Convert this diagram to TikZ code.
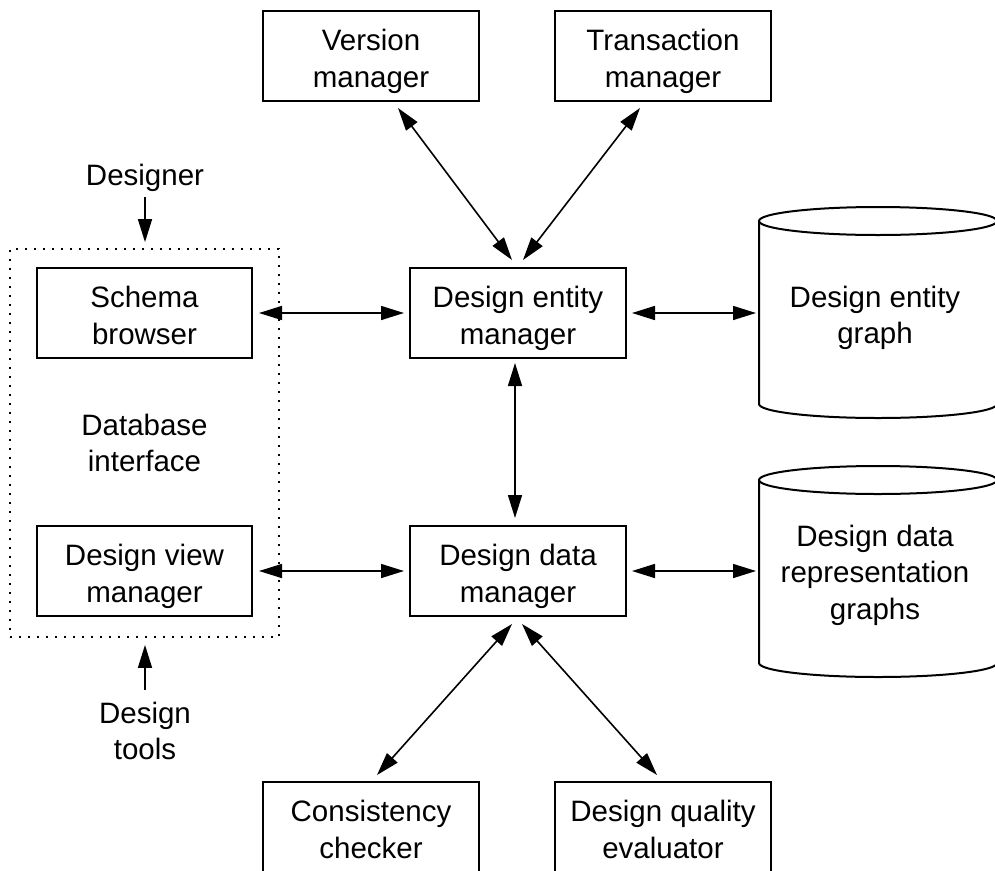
\documentclass[tikz,border=0pt]{standalone}
\usepackage{fontspec}
\setmainfont{Liberation Sans}
\usetikzlibrary{arrows.meta}
\begin{document}
\begin{tikzpicture}[x=1pt,y=-1pt,
  every node/.style={font=\fontsize{29.5}{36.5}\selectfont, align=center, inner sep=0pt},
  box/.style={draw, line width=2pt, minimum width=216pt, minimum height=90pt, text height=68pt, text depth=6pt},
  conn/.style={line width=1.6pt, {Triangle[length=23pt,width=14pt]}-{Triangle[length=23pt,width=14pt]}},
  oneway/.style={line width=1.6pt, -{Triangle[length=23pt,width=14pt]}},
  dotbox/.style={draw, line width=1.8pt, dash pattern=on 1.8pt off 7.2pt, minimum width=269pt, minimum height=388pt},
  cyl/.style={line width=2pt}]
\useasboundingbox (0,0) rectangle (995,870);
\clip (0,0) rectangle (995,870);

% boxes
\node[box] (vm) at (371,56) {Version\\manager};
\node[box] (tm) at (663,56) {Transaction\\manager};
\node[box] (dem) at (518,313) {Design entity\\manager};
\node[box] (ddm) at (518,571) {Design data\\manager};
\node[box, minimum width=215pt] (sb) at (144.5,313) {Schema\\browser};
\node[box, minimum width=215pt] (dvm) at (144.5,571) {Design view\\manager};
\node[box] (cc) at (371,827) {Consistency\\checker};
\node[box] (dqe) at (663,827) {Design quality\\evaluator};
\node[dotbox] (dbox) at (144.5,443) {Database\\interface};
\node (designer) at (145,177.5) {Designer};
\node (tools) at (145,731) {Design\\tools};

% cylinders
\draw[cyl] (759,221) -- (759,404) arc[start angle=180,end angle=360,x radius=119pt,y radius=14pt] -- (997,221);
\draw[cyl] (878,221) ellipse[x radius=119pt, y radius=14pt];
\node (cyl1) at (875,318) {Design entity\\graph};
\coordinate (cyl1in) at (759,313);

\draw[cyl] (759,480) -- (759,663) arc[start angle=180,end angle=360,x radius=119pt,y radius=14pt] -- (997,480);
\draw[cyl] (878,480) ellipse[x radius=119pt, y radius=14pt];
\node (cyl2) at (875,575) {Design data\\representation\\graphs};
\coordinate (cyl2in) at (759,571);

% connectors
\draw[conn] ([xshift=27pt,yshift=-6pt]vm.south) -- ([xshift=-6pt,yshift=7pt]dem.north);
\draw[conn] ([xshift=-23pt,yshift=-6pt]tm.south) -- ([xshift=5pt,yshift=7pt]dem.north);
\draw[conn] ([xshift=-6pt,yshift=-7pt]ddm.south) -- ([xshift=6pt,yshift=6pt]cc.north);
\draw[conn] ([xshift=4pt,yshift=-7pt]ddm.south) -- ([xshift=-6pt,yshift=6pt]dqe.north);
\draw[conn, shorten <=6pt, shorten >=5pt] (sb) -- (dem);
\draw[conn, shorten <=6pt, shorten >=5pt] (dvm) -- (ddm);
\draw[conn, shorten <=5pt, shorten >=3pt] (dem) -- (cyl1in);
\draw[conn, shorten <=5pt, shorten >=3pt] (ddm) -- (cyl2in);
\draw[conn, shorten <=4pt, shorten >=7pt] ([xshift=-3pt]dem.south) -- ([xshift=-3pt]ddm.north);
\draw[oneway, shorten <=6pt, shorten >=6pt] (designer.south) -- (designer.south |- dbox.north);
\draw[oneway, shorten <=12pt, shorten >=7pt] (tools.north) -- (tools.north |- dbox.south);
\end{tikzpicture}
\end{document}
